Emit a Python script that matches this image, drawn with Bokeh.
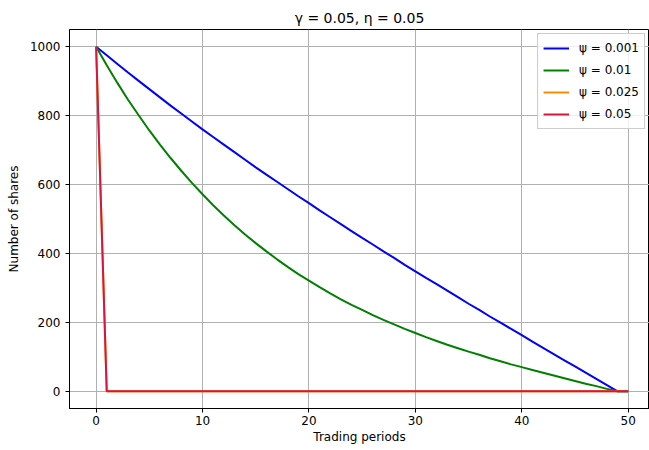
from bokeh.plotting import figure
from bokeh.models import Range1d, FixedTicker, Legend, LegendItem
from bokeh.embed import file_html
from bokeh.resources import INLINE

periods = list(range(51))
psi_001 = [1000, 975, 950, 925, 901, 877, 853, 829, 806, 783, 760, 738, 716, 694, 672,
           650, 629, 608, 587, 566, 546, 525, 505, 485, 465, 445, 426, 406, 387, 367,
           348, 329, 311, 292, 273, 254, 236, 217, 199, 181, 163, 144, 126, 108, 90,
           72, 54, 36, 18, 0, 0]
psi_01 = [1000, 946, 895, 846, 801, 757, 716, 677, 640, 605, 572, 540, 510, 482, 455,
          430, 406, 383, 361, 340, 321, 302, 284, 267, 251, 236, 221, 207, 194, 181,
          169, 157, 146, 135, 125, 115, 106, 96, 87, 78, 70, 62, 54, 46, 38,
          30, 22, 15, 7, 0, 0]
psi_025 = [1000] + [0] * 50
psi_05 = [1000] + [0] * 50

series = [
    ("\u03c8 = 0.001", psi_001, "#0000ff"),
    ("\u03c8 = 0.01", psi_01, "#008000"),
    ("\u03c8 = 0.025", psi_025, "#ff8c00"),
    ("\u03c8 = 0.05", psi_05, "#dc143c"),
]

FONT = "DejaVu Sans"

p = figure(width=649, height=450, output_backend="svg", toolbar_location=None,
           x_range=Range1d(-2.5, 52.0), y_range=Range1d(-50, 1050),
           min_border_left=69, min_border_right=0, min_border_top=29, min_border_bottom=42)

p.title.text = "\u03b3 = 0.05, \u03b7 = 0.05"
p.title.align = "center"
p.title.text_font = FONT
p.title.text_font_size = "14px"
p.title.text_font_style = "normal"
p.title.text_color = "#000000"
p.title.standoff = 8

items = []
for label, ys, color in series:
    r = p.line(periods, ys, line_color=color, line_width=2)
    items.append(LegendItem(label=label, renderers=[r]))

legend = Legend(items=items, location="top_right")
legend.label_text_font = FONT
legend.label_text_font_size = "12px"
legend.label_text_color = "#000000"
legend.border_line_color = "#cccccc"
legend.border_line_alpha = 1.0
legend.background_fill_alpha = 0.8
legend.glyph_width = 26
legend.glyph_height = 18
legend.label_height = 18
legend.spacing = 4
legend.padding = 5
legend.margin = 4
legend.label_standoff = 10
p.add_layout(legend)

p.outline_line_color = "#000000"
p.outline_line_width = 1

for ax in (p.xaxis, p.yaxis):
    ax.axis_line_color = "#000000"
    ax.major_tick_line_color = "#000000"
    ax.major_tick_out = 4
    ax.major_tick_in = 0
    ax.minor_tick_line_color = None
    ax.major_label_text_font = FONT
    ax.major_label_text_font_size = "12px"
    ax.major_label_text_color = "#000000"
    ax.axis_label_text_font = FONT
    ax.axis_label_text_font_size = "12px"
    ax.axis_label_text_font_style = "normal"
    ax.axis_label_text_color = "#000000"

p.xaxis.ticker = FixedTicker(ticks=[0, 10, 20, 30, 40, 50])
p.yaxis.ticker = FixedTicker(ticks=[0, 200, 400, 600, 800, 1000])
p.xaxis.axis_label = "Trading periods"
p.yaxis.axis_label = "Number of shares"
p.xaxis.major_label_standoff = 3
p.yaxis.major_label_standoff = 5
p.xaxis.axis_label_standoff = 2
p.yaxis.axis_label_standoff = 6

p.xgrid.grid_line_color = "#b0b0b0"
p.ygrid.grid_line_color = "#b0b0b0"
p.xgrid.grid_line_width = 1
p.ygrid.grid_line_width = 1

open("out.html", "w").write(file_html(p, INLINE))
